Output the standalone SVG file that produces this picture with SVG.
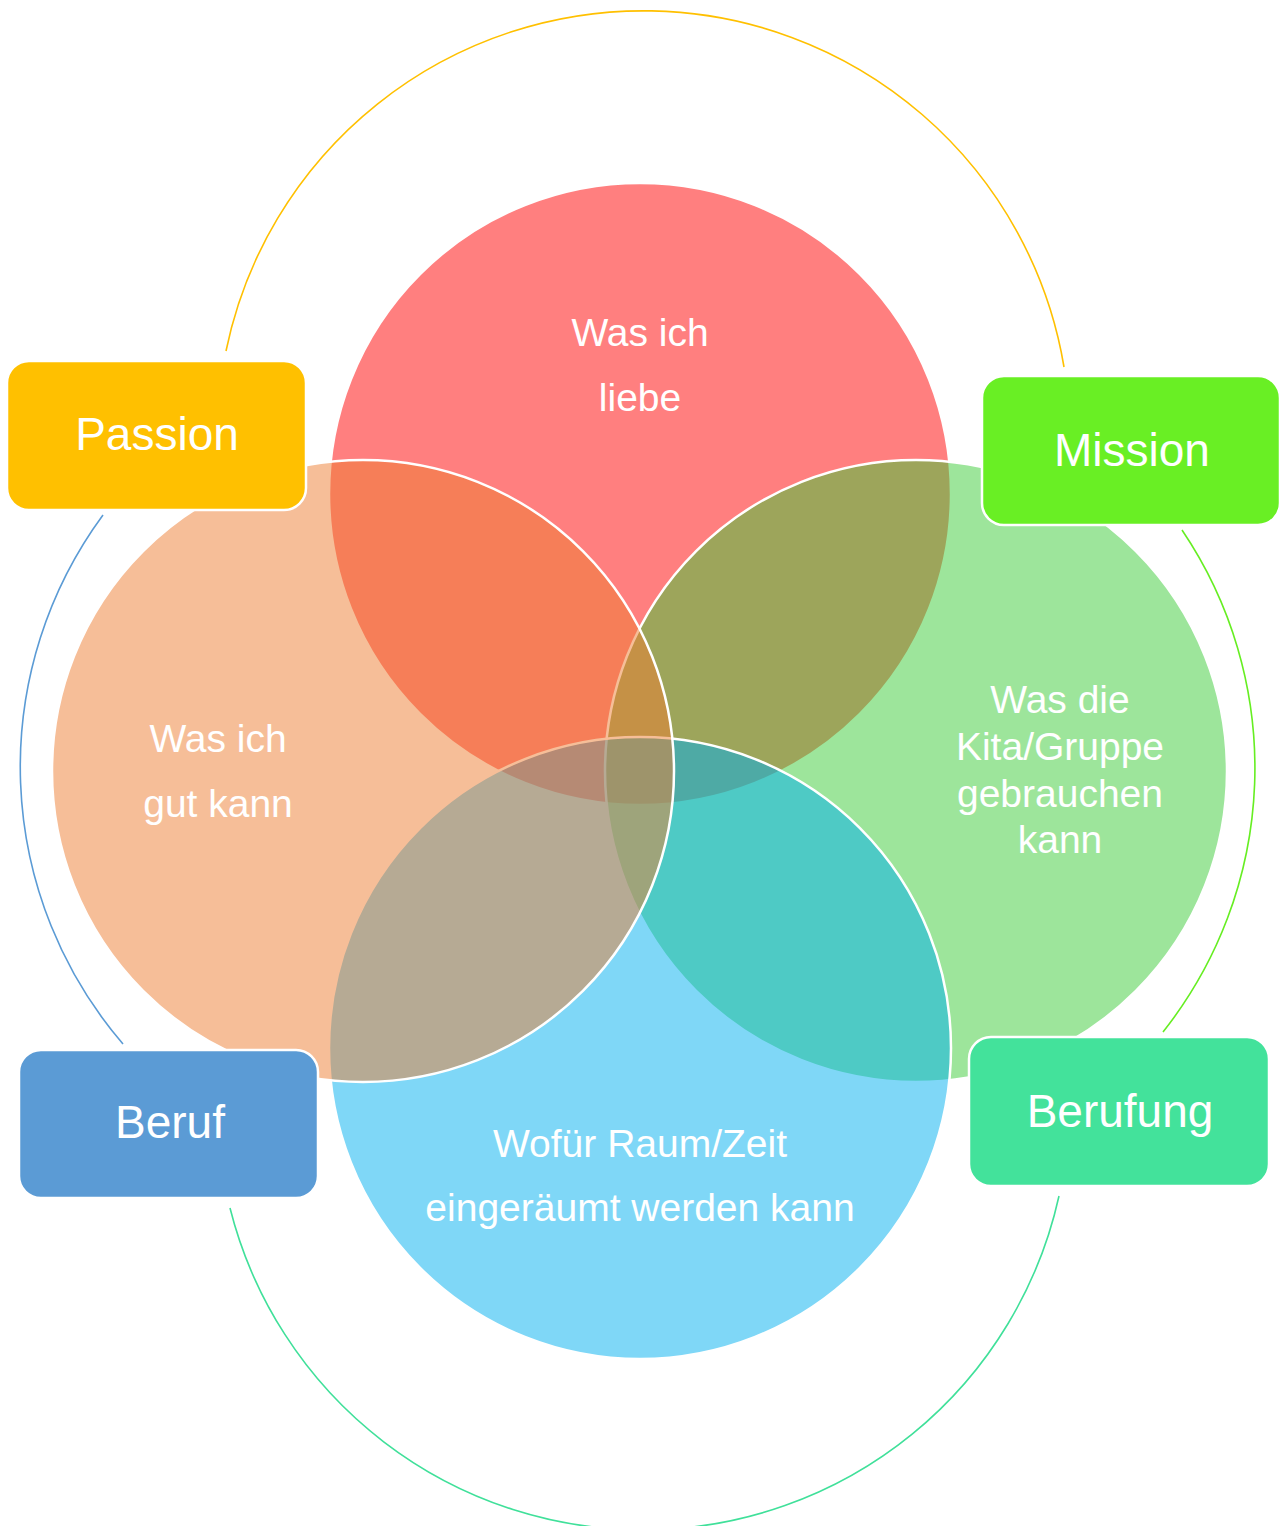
<svg xmlns="http://www.w3.org/2000/svg" width="1282" height="1526" viewBox="0 0 1282 1526">
<style>
.c{fill-opacity:0.5;stroke:#FFFFFF;stroke-width:2.5}
.t{font-family:"Liberation Sans",Arial,sans-serif;font-size:39px;fill:#FFFFFF;text-anchor:middle}
.lt{font-family:"Liberation Sans",Arial,sans-serif;font-size:46px;fill:#FFFFFF;text-anchor:middle}
.box{stroke:#FFFFFF;stroke-width:2.5}
.arc{fill:none;stroke-width:1.6}
</style>
<rect width="1282" height="1526" fill="#FFFFFF"/>
<g id="connectors">
<path class="arc" stroke="#FFC000" d="M 226 351 A 426.3 426.3 0 0 1 1064 367"/>
<path class="arc" stroke="#66EE22" d="M 1182 530 A 425 425 0 0 1 1163 1032"/>
<path class="arc" stroke="#40E09A" d="M 1059 1196 A 426 426 0 0 1 230 1208"/>
<path class="arc" stroke="#5B9BD5" d="M 123 1044 A 425 425 0 0 1 103 515"/>
</g>
<g id="circle-liebe">
<circle class="c" cx="640" cy="494" r="311" fill="#FF0000"/>
<text class="t" x="640" y="346">Was ich</text>
<text class="t" x="640" y="411">liebe</text>
</g>
<g id="circle-kita">
<circle class="c" cx="916" cy="771" r="311" fill="#3BCB37"/>
<text class="t" x="1060" y="713">Was die</text>
<text class="t" x="1060" y="760">Kita/Gruppe</text>
<text class="t" x="1060" y="807">gebrauchen</text>
<text class="t" x="1060" y="853">kann</text>
</g>
<g id="circle-raum">
<circle class="c" cx="640" cy="1048" r="311" fill="#00B0F0"/>
<text class="t" x="640" y="1157">Wofür Raum/Zeit</text>
<text class="t" x="640" y="1221">eingeräumt werden kann</text>
</g>
<g id="circle-gut">
<circle class="c" cx="363" cy="771" r="311" fill="#ED7D31"/>
<text class="t" x="218" y="752">Was ich</text>
<text class="t" x="218" y="817">gut kann</text>
</g>
<g id="box-passion">
<rect class="box" x="7" y="361" width="299" height="149" rx="22" fill="#FFC000"/>
<text class="lt" x="157" y="450">Passion</text>
</g>
<g id="box-mission">
<rect class="box" x="982" y="376" width="298" height="149" rx="22" fill="#69EF24"/>
<text class="lt" x="1132" y="466">Mission</text>
</g>
<g id="box-beruf">
<rect class="box" x="19" y="1050" width="299" height="148" rx="22" fill="#5B9BD5"/>
<text class="lt" x="170" y="1138">Beruf</text>
</g>
<g id="box-berufung">
<rect class="box" x="969" y="1037" width="300" height="149" rx="22" fill="#43E29B"/>
<text class="lt" x="1120" y="1127">Berufung</text>
</g>
</svg>
